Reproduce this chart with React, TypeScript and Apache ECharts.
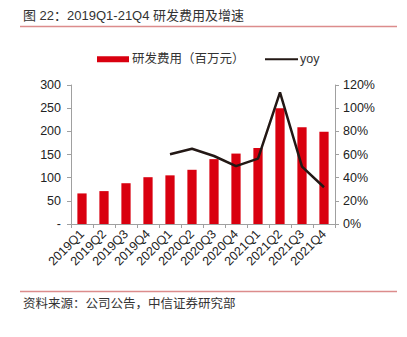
import React, { useEffect, useRef } from "react";
import * as echarts from "echarts";

const categories = ["2019Q1", "2019Q2", "2019Q3", "2019Q4", "2020Q1", "2020Q2", "2020Q3", "2020Q4", "2021Q1", "2021Q2", "2021Q3", "2021Q4"];
const rdExpense = [66, 71, 88, 101, 105, 117, 140, 152, 164, 250, 209, 199];
const yoy = [null, null, null, null, 60.2, 65, 58.7, 50, 56.4, 113.7, 49.5, 31.7];
const leftTicks = [0, 50, 100, 150, 200, 250, 300];
const rightTicks = [0, 20, 40, 60, 80, 100, 120];

const FONT = "'Liberation Sans', Arial, 'Noto Sans CJK SC', sans-serif";

export default function App() {
  const ref = useRef<HTMLDivElement>(null);
  useEffect(() => {
    if (!ref.current) return;
    const chart = echarts.init(ref.current, undefined, { renderer: "svg" });
    chart.setOption({
      animation: false,
      backgroundColor: "#ffffff",
      textStyle: { fontFamily: FONT },
      graphic: [
        { type: "text", left: 23, top: 9, style: { text: "图 22：2019Q1-21Q4 研发费用及增速", fontSize: 13, fill: "#333", fontFamily: FONT } },
        { type: "line", shape: { x1: 20, y1: 26.5, x2: 397, y2: 26.5 }, style: { stroke: "#dc8c8c", lineWidth: 1.5 } },
        { type: "line", shape: { x1: 20, y1: 291.5, x2: 397, y2: 291.5 }, style: { stroke: "#dc8c8c", lineWidth: 1.5 } },
        { type: "text", left: 23, top: 298, style: { text: "资料来源：公司公告，中信证券研究部", fontSize: 12.5, fill: "#333", fontFamily: FONT } },
      ],
      legend: [
        {
          top: 48,
          left: 92,
          itemWidth: 32,
          itemHeight: 6,
          textStyle: { fontSize: 12.5, color: "#333", fontFamily: FONT, padding: [0, 0, 0, -2] },
          data: [{ name: "研发费用（百万元）", icon: "rect" }],
        },
        {
          top: 48,
          left: 260,
          itemWidth: 33,
          itemHeight: 2,
          textStyle: { fontSize: 12.5, color: "#333", fontFamily: FONT, padding: [0, 0, 0, -3] },
          data: [{ name: "yoy", icon: "rect", itemStyle: { color: "#231815" } }],
        },
      ],
      grid: { left: 71, right: 72, top: 85, bottom: 113 },
      xAxis: {
        type: "category",
        data: categories,
        boundaryGap: true,
        axisLine: { lineStyle: { color: "#a0a0a0" } },
        axisTick: { show: true, inside: false, length: 4, lineStyle: { color: "#a0a0a0" } },
        axisLabel: { rotate: 45, fontSize: 12.5, color: "#222", margin: 8, interval: 0 },
      },
      yAxis: [
        {
          type: "value",
          min: 0,
          max: 300,
          interval: 50,
          splitLine: { show: false },
          axisLine: { show: true, lineStyle: { color: "#a0a0a0" } },
          axisTick: { show: true, length: 4, lineStyle: { color: "#a0a0a0" } },
          axisLabel: {
            fontSize: 12.5,
            color: "#222",
            margin: 10,
            formatter: (v: number) => (v === leftTicks[0] ? "-" : String(v)),
          },
        },
        {
          type: "value",
          min: 0,
          max: 120,
          interval: 20,
          position: "right",
          splitLine: { show: false },
          axisLine: { show: true, lineStyle: { color: "#a0a0a0" } },
          axisTick: { show: true, length: 4, lineStyle: { color: "#a0a0a0" } },
          axisLabel: {
            fontSize: 12.5,
            color: "#222",
            margin: 8,
            formatter: (v: number) => (rightTicks.includes(v) ? v + "%" : ""),
          },
        },
      ],
      series: [
        {
          name: "研发费用（百万元）",
          type: "bar",
          data: rdExpense,
          barWidth: "42%",
          itemStyle: { color: "#d9000f" },
        },
        {
          name: "yoy",
          type: "line",
          yAxisIndex: 1,
          data: yoy,
          symbol: "none",
          showSymbol: false,
          connectNulls: false,
          lineStyle: { color: "#231815", width: 2.5 },
          itemStyle: { color: "#231815" },
        },
      ],
    });
    return () => chart.dispose();
  }, []);
  return <div ref={ref} style={{ width: 407, height: 337, margin: -8 }} />;
}
